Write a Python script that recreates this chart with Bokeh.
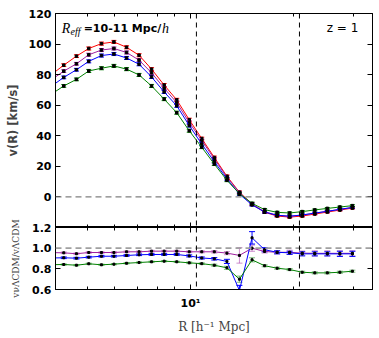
import numpy as np
from bokeh.plotting import figure
from bokeh.models import (Range1d, FixedTicker, LinearAxis, LogAxis, Span,
                          Whisker, TeeHead, ColumnDataSource, PrintfTickFormatter)
from bokeh.layouts import column
from bokeh.embed import file_html
from bokeh.resources import INLINE
from bokeh.core.properties import value

# ---------------- data ----------------
R = [3.92, 4.26, 4.64, 5.04, 5.49, 5.97, 6.50, 7.07, 7.69, 8.37, 9.11, 9.91,
     10.78, 11.73, 12.77, 13.89, 15.12, 16.45, 17.90, 19.47, 21.19, 23.06,
     25.09, 27.30, 29.70]

v_red = [80.0, 86.2, 92.1, 97.1, 100.3, 101.4, 97.9, 92.7, 83.6, 73.2, 63.5,
         50.5, 38.2, 25.8, 13.5, 3.1, -4.7, -10.0, -12.5, -13.2, -12.5, -11.2,
         -9.9, -8.6, -7.3]
v_purple = [76.6, 82.3, 87.1, 93.0, 96.1, 97.1, 94.5, 89.5, 81.2, 71.1, 61.7,
            48.7, 36.9, 24.9, 12.9, 2.9, -4.7, -9.7, -12.0, -12.7, -11.9, -10.6,
            -9.4, -8.2, -6.9]
v_blue = [72.4, 78.2, 83.2, 88.7, 92.5, 93.5, 90.9, 86.8, 78.5, 68.7, 59.6,
          46.7, 34.6, 23.1, 11.8, 1.8, -5.2, -9.9, -12.0, -12.6, -11.8, -10.6,
          -9.4, -8.1, -6.9]
v_green = [67.2, 72.6, 76.9, 82.4, 84.2, 85.7, 83.6, 79.8, 72.6, 64.0, 55.1,
           43.3, 32.5, 21.5, 10.9, 2.2, -4.2, -8.3, -10.1, -10.5, -9.6, -8.5,
           -7.5, -6.6, -5.7]
err_v = [0.8, 0.9, 0.9, 1.0, 1.0, 1.0, 1.0, 1.0, 1.0, 1.0, 1.0, 1.0, 0.9, 0.9,
         0.9, 0.8, 0.8, 0.7, 0.7, 0.7, 0.7, 0.6, 0.6, 0.6, 0.6]

ratio_purple = [0.957, 0.955, 0.946, 0.958, 0.958, 0.958, 0.965, 0.965, 0.971,
                0.971, 0.971, 0.965, 0.965, 0.965, 0.952, 0.93, 1.0, 0.968,
                0.96, 0.96, 0.952, 0.95, 0.95, 0.95, 0.95]
ratio_blue = [0.905, 0.907, 0.903, 0.913, 0.922, 0.922, 0.929, 0.936, 0.939,
              0.939, 0.939, 0.925, 0.905, 0.897, 0.872, 0.59, 1.10, 0.985,
              0.96, 0.955, 0.945, 0.945, 0.945, 0.945, 0.945]
ratio_green = [0.84, 0.842, 0.835, 0.849, 0.839, 0.845, 0.854, 0.861, 0.868,
               0.874, 0.868, 0.858, 0.85, 0.835, 0.81, 0.70, 0.887, 0.83,
               0.806, 0.793, 0.767, 0.761, 0.761, 0.767, 0.777]
err_purple = [0.008, 0.008, 0.008, 0.008, 0.008, 0.008, 0.008, 0.008, 0.008,
              0.008, 0.008, 0.008, 0.01, 0.012, 0.015, 0.075, 0.03, 0.015,
              0.015, 0.02, 0.02, 0.025, 0.025, 0.025, 0.025]
err_blue = [0.008, 0.008, 0.008, 0.008, 0.008, 0.008, 0.008, 0.008, 0.008,
            0.008, 0.008, 0.01, 0.01, 0.012, 0.02, 0.05, 0.06, 0.02, 0.015,
            0.015, 0.02, 0.02, 0.02, 0.025, 0.025]
err_green = [0.006, 0.006, 0.006, 0.006, 0.006, 0.006, 0.006, 0.006, 0.006,
             0.006, 0.006, 0.008, 0.008, 0.01, 0.015, 0.03, 0.02, 0.01, 0.01,
             0.01, 0.01, 0.01, 0.01, 0.01, 0.01]

x_major = [10]
x_minor = [5, 6, 7, 8, 9, 20, 30]
x_labels = {10: "10\u00b9"}
y_top_ticks = [0, 20, 40, 60, 80, 100, 120]
y_bot_ticks = [0.6, 0.8, 1.0, 1.2]
vlines = [10.4, 20.8]

RED, PURPLE, BLUE, GREEN = "#ff0000", "#a020a0", "#0000ff", "#008000"

xr = Range1d(4.03, 34.0)
FONT = "DejaVu Sans"
OVERLAP = 30


def style_axis(ax, hidden=False):
    ax.major_tick_in = 5
    ax.major_tick_out = 0
    ax.minor_tick_in = 3
    ax.minor_tick_out = 0
    ax.axis_line_color = "black"
    ax.major_tick_line_color = "black"
    ax.minor_tick_line_color = "black"
    ax.major_label_text_font = FONT
    ax.major_label_text_font_style = "bold"
    ax.major_label_text_font_size = "11px"
    ax.major_label_text_color = "black"
    ax.major_label_standoff = 4
    if hidden:
        ax.major_label_text_font_size = "1px"
        ax.major_label_text_color = None
        ax.major_label_standoff = 0


def base_fig(height, yr, top_b, bot_b):
    p = figure(width=373, height=height, x_axis_type="log", x_range=xr,
               y_range=yr, output_backend="svg", toolbar_location=None,
               min_border_left=55, min_border_right=1, min_border_top=top_b,
               min_border_bottom=bot_b)
    p.grid.visible = False
    p.outline_line_color = "black"
    p.outline_line_width = 1
    p.background_fill_color = "white"
    return p


# ---------------- top panel ----------------
top = base_fig(227, Range1d(-20, 120), 13, 0)
top.border_fill_color = "white"
top.xaxis.ticker = FixedTicker(ticks=x_major, minor_ticks=x_minor)
style_axis(top.xaxis[0], hidden=True)
top.yaxis.ticker = FixedTicker(ticks=y_top_ticks, minor_ticks=[])
style_axis(top.yaxis[0])
top.yaxis.axis_label = "v(R) [km/s]"
top.yaxis.axis_label_text_font = FONT
top.yaxis.axis_label_text_font_style = "bold"
top.yaxis.axis_label_text_font_size = "11.5px"
top.yaxis.axis_label_standoff = 6

ax_top = LogAxis(ticker=FixedTicker(ticks=x_major, minor_ticks=x_minor))
style_axis(ax_top, hidden=True)
top.add_layout(ax_top, "above")
ax_right = LinearAxis(ticker=FixedTicker(ticks=y_top_ticks, minor_ticks=[]))
style_axis(ax_right, hidden=True)
top.add_layout(ax_right, "right")

top.add_layout(Span(location=0, dimension="width", line_color="#808080",
                    line_dash="6 4", line_width=1.3))
for xv in vlines:
    top.add_layout(Span(location=xv, dimension="height", line_color="black",
                        line_dash="5 4", line_width=1))

for vals, col in [(v_red, RED), (v_purple, PURPLE), (v_blue, BLUE), (v_green, GREEN)]:
    lo = [a - e for a, e in zip(vals, err_v)]
    hi = [a + e for a, e in zip(vals, err_v)]
    src = ColumnDataSource(dict(x=R, y=vals, lo=lo, hi=hi))
    top.line("x", "y", source=src, line_color=col, line_width=1)
    top.add_layout(Whisker(source=src, base="x", lower="lo", upper="hi",
                           line_color=col, line_width=1,
                           lower_head=TeeHead(size=5, line_color=col, line_width=1),
                           upper_head=TeeHead(size=5, line_color=col, line_width=1)))
    top.scatter("x", "y", source=src, marker="square", size=2.5,
                fill_color="black", line_color="black")

top.text(x=[4.20], y=[110.2], text=["R"], text_font=value("Liberation Serif"),
         text_font_style="italic", text_font_size="14px",
         text_baseline="alphabetic", text_align="left", text_color="black")
top.text(x=[4.46], y=[108.0], text=["eff"], text_font=value("Liberation Serif"),
         text_font_style="italic", text_font_size="10px",
         text_baseline="alphabetic", text_align="left", text_color="black")
top.text(x=[4.87], y=[110.2], text=["=10-11 Mpc/"], text_font=value(FONT),
         text_font_style="bold", text_font_size="11px",
         text_baseline="alphabetic", text_align="left", text_color="black")
top.text(x=[8.25], y=[110.2], text=["h"], text_font=value("Liberation Serif"),
         text_font_style="italic", text_font_size="14px",
         text_baseline="alphabetic", text_align="left", text_color="black")
top.text(x=[30.9], y=[110.2], text=["z = 1"], text_font=value(FONT),
         text_font_size="12px", text_baseline="alphabetic",
         text_align="right", text_color="black")

# ---------------- bottom panel ----------------
bot = base_fig(OVERLAP + 62 + 48, Range1d(0.6, 1.2), OVERLAP, 48)
bot.border_fill_color = None
bot.margin = (-OVERLAP, 0, 0, 0)
bot.xaxis.ticker = FixedTicker(ticks=x_major, minor_ticks=x_minor)
bot.xaxis.major_label_overrides = x_labels
style_axis(bot.xaxis[0])
bot.xaxis.major_label_standoff = 7
bot.xaxis.axis_label = "R [h\u207b\u00b9 Mpc]"
bot.xaxis.axis_label_text_font = "DejaVu Serif"
bot.xaxis.axis_label_text_font_style = "normal"
bot.xaxis.axis_label_text_font_size = "12px"
bot.xaxis.axis_label_standoff = 7
bot.yaxis.ticker = FixedTicker(ticks=y_bot_ticks, minor_ticks=[])
bot.yaxis.formatter = PrintfTickFormatter(format="%.1f")
style_axis(bot.yaxis[0])
bot.yaxis.axis_label = "v\u03bd\u039bCDM/v\u039bCDM"
bot.yaxis.axis_label_text_font = "DejaVu Serif"
bot.yaxis.axis_label_text_font_style = "normal"
bot.yaxis.axis_label_text_font_size = "9px"
bot.yaxis.axis_label_standoff = 8

ax_top2 = LogAxis(ticker=FixedTicker(ticks=x_major, minor_ticks=x_minor))
style_axis(ax_top2, hidden=True)
bot.add_layout(ax_top2, "above")
ax_right2 = LinearAxis(ticker=FixedTicker(ticks=y_bot_ticks, minor_ticks=[]))
style_axis(ax_right2, hidden=True)
bot.add_layout(ax_right2, "right")

bot.add_layout(Span(location=1.0, dimension="width", line_color="#a0a0a0",
                    line_dash="6 4", line_width=1.8))
for xv in vlines:
    bot.add_layout(Span(location=xv, dimension="height", line_color="black",
                        line_dash="5 4", line_width=1))

for vals, errs, col, ecol, ealpha in [
        (ratio_purple, err_purple, PURPLE, PURPLE, 0.5),
        (ratio_blue, err_blue, BLUE, BLUE, 1.0),
        (ratio_green, err_green, GREEN, GREEN, 0.5)]:
    lo = [a - e for a, e in zip(vals, errs)]
    hi = [a + e for a, e in zip(vals, errs)]
    src = ColumnDataSource(dict(x=R, y=vals, lo=lo, hi=hi))
    bot.line("x", "y", source=src, line_color=col, line_width=1)
    bot.add_layout(Whisker(source=src, base="x", lower="lo", upper="hi",
                           line_color=ecol, line_alpha=ealpha, line_width=1,
                           lower_head=TeeHead(size=6, line_color=ecol, line_alpha=ealpha, line_width=1),
                           upper_head=TeeHead(size=6, line_color=ecol, line_alpha=ealpha, line_width=1)))
    bot.scatter("x", "y", source=src, marker="square", size=2,
                fill_color="black", line_color="black")

layout = column(top, bot)
open("out.html", "w").write(file_html(layout, INLINE))
